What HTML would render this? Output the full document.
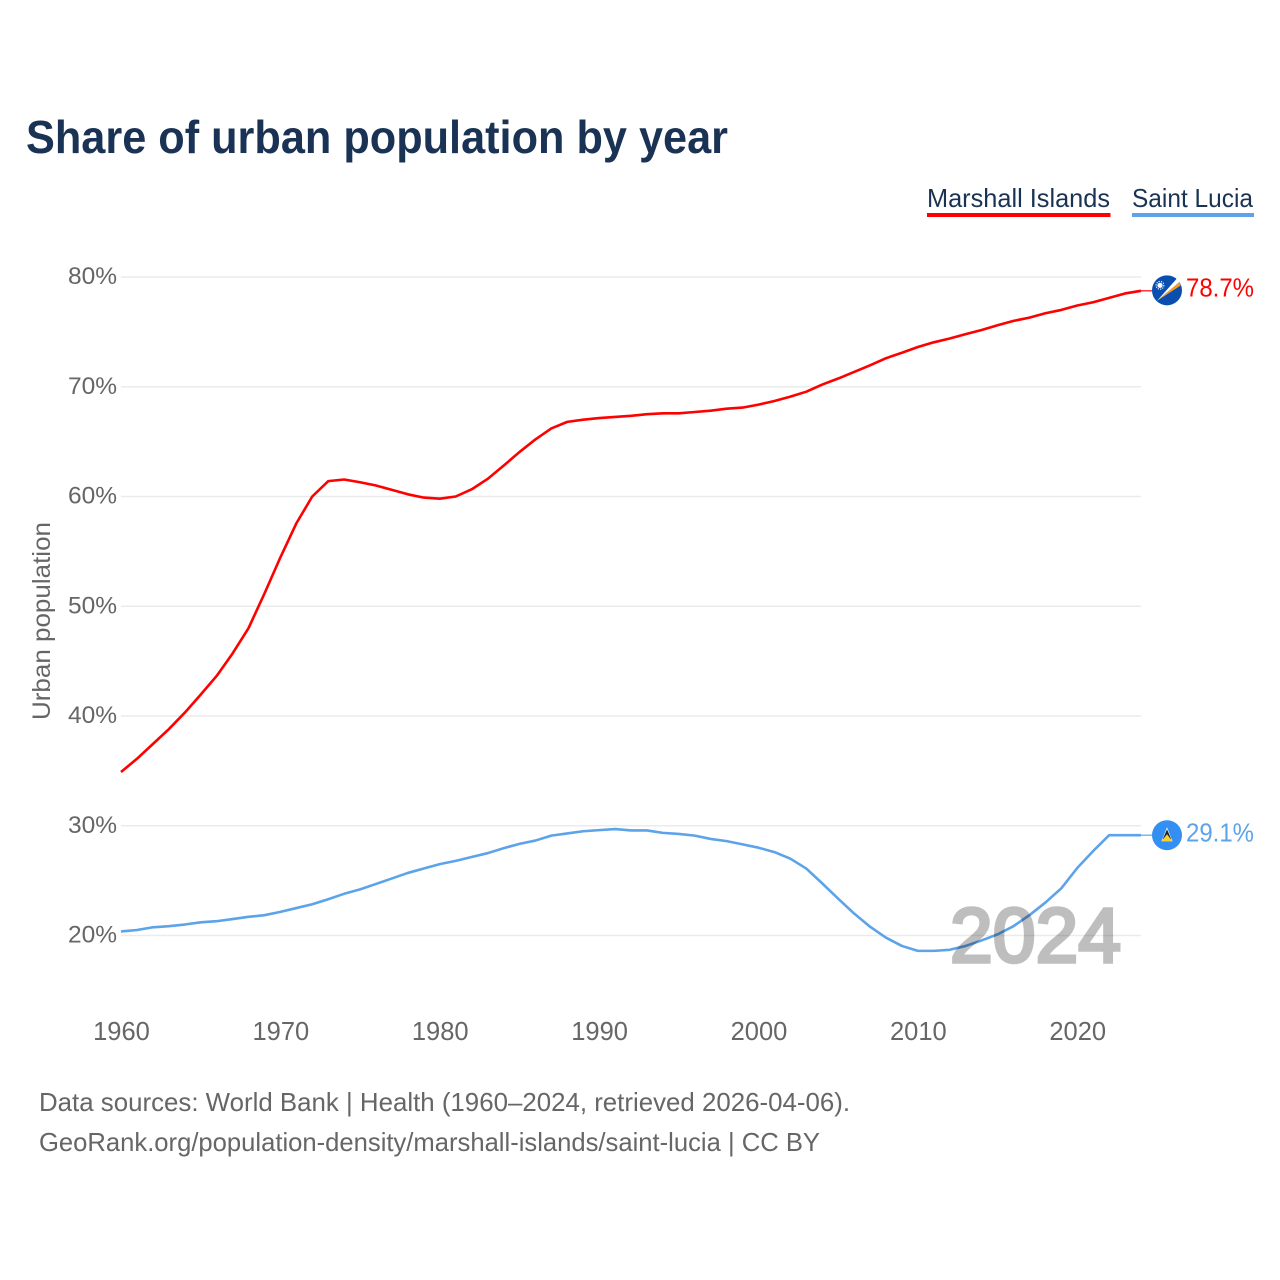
<!DOCTYPE html>
<html lang="en">
<head>
<meta charset="utf-8">
<title>Share of urban population by year</title>
<style>
html,body{margin:0;padding:0;background:#fff;width:1280px;height:1280px;overflow:hidden}
svg{display:block;font-family:"Liberation Sans",sans-serif}
</style>
</head>
<body>
<svg id="chart" width="1280" height="1280" viewBox="0 0 1280 1280" xmlns="http://www.w3.org/2000/svg">
  <rect width="1280" height="1280" fill="#fff"/>
  <text x="26" y="153" font-size="46" font-weight="700" fill="#1a3355" textLength="702" lengthAdjust="spacingAndGlyphs">Share of urban population by year</text>

  <g>
    <g>
      <text x="927" y="207" font-size="26" fill="#1a3355" textLength="183" lengthAdjust="spacingAndGlyphs">Marshall Islands</text>
      <rect x="927" y="213" width="183.5" height="4" fill="#ff0000"/>
    </g>
    <g>
      <text x="1132" y="207" font-size="26" fill="#1a3355" textLength="121" lengthAdjust="spacingAndGlyphs">Saint Lucia</text>
      <rect x="1132" y="213" width="122" height="4" fill="#5ca3ea"/>
    </g>
  </g>

  <g id="grid"></g>
  <g id="yaxis"></g>
  <g id="xaxis"></g>
  <text transform="translate(50,621) rotate(-90)" text-anchor="middle" font-size="25" fill="#666" textLength="198" lengthAdjust="spacingAndGlyphs">Urban population</text>

  <g id="series"></g>
  <text id="year-watermark" x="950" y="962" font-size="77" font-weight="400" fill="#000" stroke="#000" stroke-width="3.5" opacity="0.25" textLength="171" lengthAdjust="spacingAndGlyphs">2024</text>
  <g id="ends"></g>

  <text x="39" y="1111" font-size="26" fill="#666" textLength="811" lengthAdjust="spacingAndGlyphs">Data sources: World Bank | Health (1960–2024, retrieved 2026-04-06).</text>
  <text x="39" y="1151" font-size="26" fill="#666" textLength="781" lengthAdjust="spacingAndGlyphs">GeoRank.org/population-density/marshall-islands/saint-lucia | CC BY</text>
</svg>
<script>
const years = [1960,1961,1962,1963,1964,1965,1966,1967,1968,1969,1970,1971,1972,1973,1974,1975,1976,1977,1978,1979,1980,1981,1982,1983,1984,1985,1986,1987,1988,1989,1990,1991,1992,1993,1994,1995,1996,1997,1998,1999,2000,2001,2002,2003,2004,2005,2006,2007,2008,2009,2010,2011,2012,2013,2014,2015,2016,2017,2018,2019,2020,2021,2022,2023,2024];
const marshallIslands = [34.9,36.1,37.45,38.8,40.3,41.95,43.65,45.7,48.0,51.15,54.45,57.55,60.0,61.4,61.55,61.3,61.0,60.6,60.2,59.9,59.8,60.0,60.65,61.6,62.8,64.05,65.2,66.2,66.8,67.0,67.15,67.25,67.35,67.5,67.58,67.58,67.7,67.82,68.0,68.1,68.37,68.7,69.1,69.55,70.2,70.75,71.35,71.95,72.6,73.1,73.62,74.05,74.4,74.8,75.17,75.6,76.0,76.3,76.7,77.0,77.4,77.7,78.1,78.5,78.74];
const saintLucia = [20.37,20.5,20.75,20.85,21.0,21.2,21.3,21.5,21.7,21.85,22.15,22.5,22.85,23.3,23.8,24.2,24.7,25.2,25.7,26.1,26.5,26.8,27.15,27.5,27.95,28.35,28.65,29.1,29.3,29.5,29.6,29.7,29.57,29.57,29.35,29.25,29.1,28.8,28.6,28.3,28.0,27.6,27.0,26.1,24.75,23.35,22.0,20.8,19.8,19.05,18.6,18.6,18.7,19.05,19.55,20.1,20.85,21.85,23.0,24.3,26.15,27.7,29.14,29.14,29.14];
const yTickValues = [20,30,40,50,60,70,80];
const xTickValues = [1960,1970,1980,1990,2000,2010,2020];

const NS = 'http://www.w3.org/2000/svg';
const xScale = function (year) { return 121 + (year - 1960) * (1141 - 121) / 64; };
const yScale = function (v) { return 277 + (80 - v) * (935.5 - 277) / 60; };

function make(tag, parent, attrs) {
  const el = document.createElementNS(NS, tag);
  for (const k in attrs) el.setAttribute(k, attrs[k]);
  parent.appendChild(el);
  return el;
}

const grid = document.getElementById('grid');
const yaxis = document.getElementById('yaxis');
const xaxis = document.getElementById('xaxis');
const seriesG = document.getElementById('series');
const ends = document.getElementById('ends');

yTickValues.forEach(function (v) {
  const line = make('line', grid, {x1: 121, x2: 1141, y1: yScale(v), y2: yScale(v), stroke: '#ebebeb', 'stroke-width': 1.5});
  
  
  const t = make('text', yaxis, {x: 117, y: yScale(v) + 7, 'text-anchor': 'end', 'font-size': 24.5, fill: '#666'});
  
  
  t.textContent = v + '%';
});

xTickValues.forEach(function (y) {
  const t = make('text', xaxis, {x: xScale(y) + 0.5, y: 1040, 'text-anchor': 'middle', 'font-size': 25.5, fill: '#666'});
  
  
  t.textContent = y;
});

function drawSeries(values, color, key, labelDy) {
  const d = values.map(function (v, i) {
    return (i ? 'L' : 'M') + xScale(years[i]).toFixed(2) + ' ' + yScale(v).toFixed(2);
  }).join(' ');
  const path = make('path', seriesG, {d: d, fill: 'none', stroke: color, 'stroke-width': 2.6, 'stroke-linejoin': 'round'});
  
  

  const last = values[values.length - 1];
  const endY = yScale(last);
  const conn = make('line', ends, {x1: 1141, x2: 1153, y1: endY, y2: endY, stroke: color, 'stroke-width': 1.2});
  
  

  const label = make('text', ends, {x: 1186, y: endY + labelDy, 'font-size': 25.5, fill: color, textLength: 68, lengthAdjust: 'spacingAndGlyphs'});
  
  
  label.textContent = last.toFixed(1) + '%';
  return endY;
}

const redY = drawSeries(marshallIslands, '#ff0000', 'marshall-islands', 5.5);
const blueY = drawSeries(saintLucia, '#5ca3ea', 'saint-lucia', 6.5);

/* Marshall Islands flag badge */
const mh = make('g', ends, {transform: 'translate(1167,' + (redY - 0.5) + ')'});


make('circle', mh, {r: 15, fill: '#0a4fb0'});
make('path', mh, {d: 'M-10 10.5 L12.5 -8.5 L13.8 -5 Z', fill: '#f59a23'});
make('path', mh, {d: 'M-10 10.5 L10 -12 L12.5 -8.5 Z', fill: '#ffffff'});
make('circle', mh, {cx: -7, cy: -5, r: 2.6, fill: '#ffffff'});
make('circle', mh, {cx: -7, cy: -5, r: 3.9, fill: 'none', stroke: '#ffffff', 'stroke-width': 1.1, 'stroke-dasharray': '1.2 1.2'});

/* Saint Lucia flag badge */
const lc = make('g', ends, {transform: 'translate(1167,' + blueY + ')'});


make('circle', lc, {r: 15, fill: '#3390f2'});
make('path', lc, {d: 'M0 -8 L5.5 6 L-5.5 6 Z', fill: '#ffffff'});
make('path', lc, {d: 'M0 -6 L4.3 4 L-4.3 4 Z', fill: '#1a2433'});
make('path', lc, {d: 'M0 -1 L5.5 6 L-5.5 6 Z', fill: '#f8d030'});
</script>
</body>
</html>
